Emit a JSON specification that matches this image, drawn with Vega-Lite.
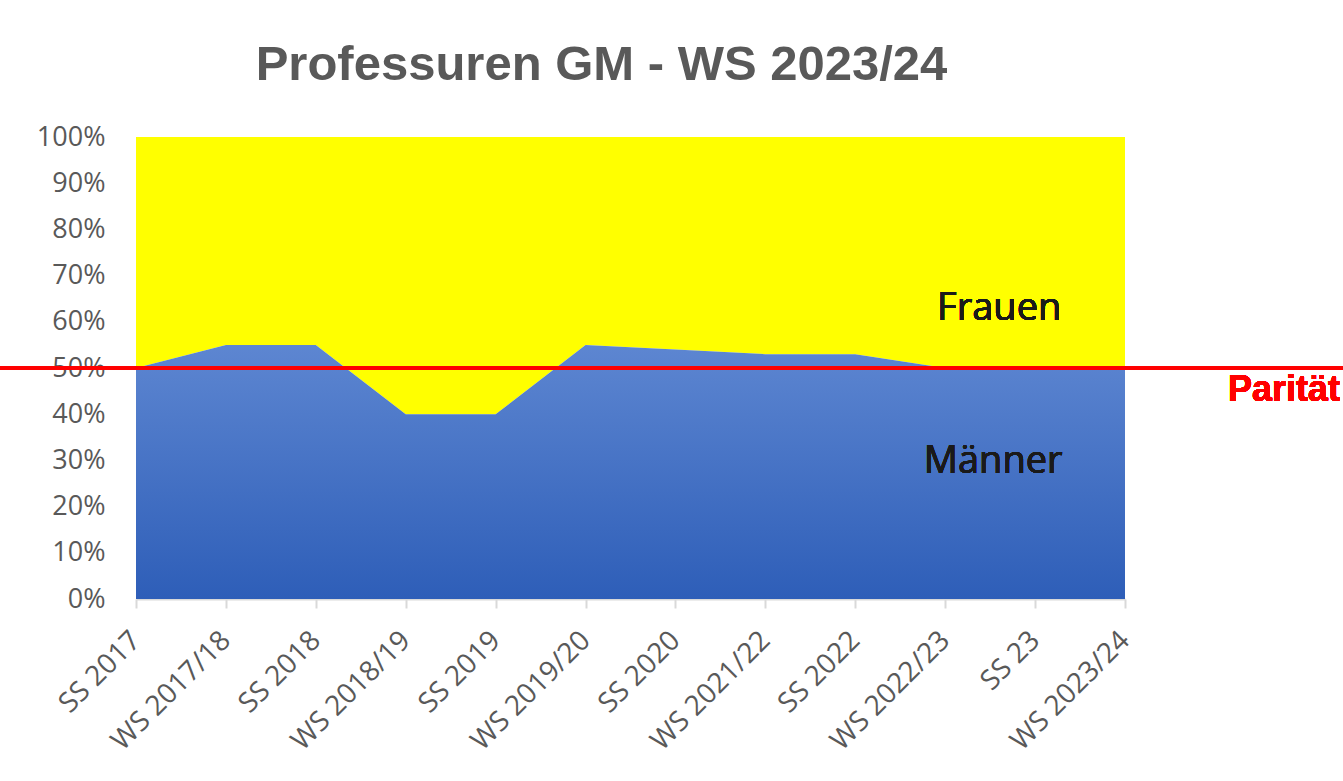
{
  "$schema": "https://vega.github.io/schema/vega-lite/v6.json",
  "width": 1343,
  "height": 781,
  "autosize": {"type": "none"},
  "padding": 0,
  "background": "white",
  "config": {"view": {"stroke": null}},
  "title": {
    "text": "Professuren GM - WS 2023/24",
    "font": "Liberation Sans",
    "fontSize": 49,
    "fontWeight": "bold",
    "color": "#595959",
    "anchor": "middle",
    "frame": "group",
    "orient": "top",
    "baseline": "alphabetic",
    "offset": 0,
    "dy": 129,
    "dx": -70
  },
  "data": {
    "values": [
      {"semester": "SS 2017", "maenner": 0.50},
      {"semester": "WS 2017/18", "maenner": 0.55},
      {"semester": "SS 2018", "maenner": 0.55},
      {"semester": "WS 2018/19", "maenner": 0.40},
      {"semester": "SS 2019", "maenner": 0.40},
      {"semester": "WS 2019/20", "maenner": 0.55},
      {"semester": "SS 2020", "maenner": 0.54},
      {"semester": "WS 2021/22", "maenner": 0.53},
      {"semester": "SS 2022", "maenner": 0.53},
      {"semester": "WS 2022/23", "maenner": 0.50},
      {"semester": "SS 23", "maenner": 0.50},
      {"semester": "WS 2023/24", "maenner": 0.50}
    ]
  },
  "layer": [
    {
      "mark": {"type": "area", "color": "#FFFF00", "opacity": 1},
      "encoding": {
        "x": {
          "field": "semester",
          "type": "ordinal",
          "sort": null,
          "scale": {"type": "point", "range": [136, 1125], "padding": 0},
          "axis": {
            "title": null,
            "offset": -182,
            "labelAngle": -45,
            "labelAlign": "right",
            "labelBaseline": "middle",
            "labelFont": "Open Sans",
            "labelFontSize": 28,
            "labelColor": "#595959",
            "labelPadding": 28,
            "domainColor": "#d9d9d9",
            "domainWidth": 2,
            "tickColor": "#d9d9d9",
            "tickWidth": 2,
            "tickSize": 9,
            "grid": false
          }
        },
        "y": {
          "field": "maenner",
          "type": "quantitative",
          "scale": {"domain": [0, 1], "range": [599, 137]},
          "axis": {
            "title": null,
            "offset": -136,
            "values": [0, 0.1, 0.2, 0.3, 0.4, 0.5, 0.6, 0.7, 0.8, 0.9, 1],
            "format": ".0%",
            "labelFont": "Open Sans",
            "labelFontSize": 27,
            "labelColor": "#595959",
            "labelPadding": 31,
            "domain": false,
            "ticks": false,
            "grid": false
          }
        },
        "y2": {"datum": 1}
      }
    },
    {
      "mark": {
        "type": "area",
        "opacity": 1,
        "fill": {
          "gradient": "linear",
          "x1": 0, "y1": 0, "x2": 0, "y2": 1,
          "stops": [
            {"offset": 0, "color": "#5D86D1"},
            {"offset": 1, "color": "#2E5EB8"}
          ]
        }
      },
      "encoding": {
        "x": {"field": "semester", "type": "ordinal", "sort": null},
        "y": {"field": "maenner", "type": "quantitative", "stack": null},
        "y2": {"datum": 0}
      }
    },
    {
      "mark": {"type": "rule", "color": "#FF0000", "strokeWidth": 3},
      "encoding": {"y": {"datum": 0.5}}
    },
    {
      "mark": {
        "type": "text",
        "text": "Parität",
        "font": "Liberation Sans",
        "fontSize": 36,
        "fontWeight": "bold",
        "color": "#FF0000",
        "align": "right",
        "baseline": "top",
        "dy": 5,
        "dx": -3
      },
      "encoding": {"x": {"value": "width"}, "y": {"datum": 0.5}}
    },
    {
      "mark": {
        "type": "text",
        "text": "Frauen",
        "font": "Open Sans",
        "fontSize": 38,
        "color": "#1a1a1a",
        "align": "center",
        "baseline": "alphabetic",
        "dx": 54
      },
      "encoding": {"x": {"datum": "WS 2022/23"}, "y": {"datum": 0.604}}
    },
    {
      "mark": {
        "type": "text",
        "text": "Männer",
        "font": "Open Sans",
        "fontSize": 38,
        "color": "#1a1a1a",
        "align": "center",
        "baseline": "alphabetic",
        "dx": 48
      },
      "encoding": {"x": {"datum": "WS 2022/23"}, "y": {"datum": 0.273}}
    }
  ]
}
